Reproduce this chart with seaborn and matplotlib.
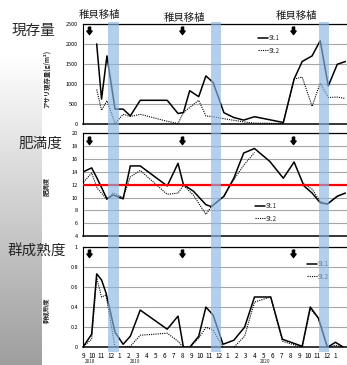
import numpy as np
import pandas as pd
import matplotlib.pyplot as plt
import matplotlib.transforms as mtransforms
from matplotlib.path import Path
from matplotlib.ticker import FuncFormatter
import seaborn as sns

# month axis: 0 = Sep 2018 ... 28 = Jan 2021
month_labels = ['9', '10', '11', '12', '1', '2', '3', '4', '5', '6', '7', '8',
                '9', '10', '11', '12', '1', '2', '3', '4', '5', '6', '7', '8',
                '9', '10', '11', '12', '1']
year_labels = ['2018', '2019', '2020']
year_pos = [0.7, 5.7, 20.2]

# shaded transplant periods (month positions)
band_start = [2.75, 14.2, 26.2]
band_end = [3.95, 15.3, 27.3]
arrow_pos = [0.64, 10.9, 23.3]
transplant_pos = [1.72, 11.2, 23.7]

# standing stock (g/m2)
x_stock = [1.46, 2.0, 2.6, 3.5, 4.4, 5.2, 6.3, 9.3, 10.5, 11.1, 11.8, 12.8, 13.6, 14.4,
           15.6, 16.7, 17.8, 19.0, 22.2, 23.4, 24.3, 25.4, 26.3, 27.2, 28.2, 29.1]
stock_st1 = [1990, 610, 1690, 360, 360, 190, 580, 580, 250, 275, 820, 670, 1190, 1025,
             270, 150, 85, 170, 25, 1110, 1550, 1690, 2070, 940, 1480, 1550]
stock_st2 = [850, 330, 570, 0, 230, 175, 230, 55, 0, 275, 400, 580, 190, 170,
             120, 80, 40, 10, 0, 1110, 1160, 430, 1010, 650, 660, 625]

# condition index
x_cond = [0, 0.9, 1.5, 2.6, 3.3, 4.4, 5.2, 6.3, 9.3, 10.5, 11.1, 12.2, 13.6, 14.2,
          15.6, 16.7, 17.8, 19.0, 20.7, 22.2, 23.4, 24.5, 25.4, 26.3, 27.1, 28.2, 29.1]
cond_st1 = [14.0, 14.6, 13.0, 9.8, 10.4, 9.8, 14.9, 14.9, 11.8, 15.3, 12.0, 11.0, 8.9, 8.6,
            10.2, 13.0, 16.9, 17.6, 15.6, 13.0, 15.5, 11.8, 10.7, 9.2, 9.0, 10.2, 10.7]
cond_st2 = [12.4, 13.8, 11.5, 9.7, 10.7, 10.0, 13.2, 14.2, 10.5, 10.7, 11.9, 10.4, 7.4, 8.6,
            10.2, 12.8, 15.0, 17.0, np.nan, np.nan, np.nan, 12.1, 11.3, 9.4, 9.0, 10.2, 10.7]
cond_ref = 12

# group maturity
x_mat = [0, 0.9, 1.46, 2.0, 2.5, 3.5, 4.4, 5.2, 6.3, 9.3, 10.5, 11.1, 11.8, 12.8, 13.6, 14.4,
         15.5, 16.7, 17.9, 19.0, 20.8, 22.1, 24.3, 25.2, 26.1, 27.1, 28.0, 28.9]
mat_st1 = [0.01, 0.13, 0.73, 0.67, 0.54, 0.15, 0.03, 0.11, 0.37, 0.18, 0.31, 0, 0, 0.11, 0.40, 0.32,
           0.03, 0.07, 0.20, 0.50, 0.50, 0.08, 0.01, 0.40, 0.29, 0, 0.05, 0]
mat_st2 = [0.01, 0.08, 0.69, 0.50, 0.52, 0.0, 0.0, 0.01, 0.12, 0.14, 0.06, 0, 0, 0.09, 0.20, 0.17,
           0, 0, 0.11, 0.45, 0.50, 0.06, 0.0, 0.38, 0.29, 0, 0.02, 0]


def long_form(x, st1, st2):
    rows = []
    for name, vals in [('St.1', st1), ('St.2', st2)]:
        seg = 0
        for xi, v in zip(x, vals):
            if np.isnan(v):
                seg += 1
                continue
            rows.append({'month': xi, 'value': v, 'station': name, 'seg': f'{name}-{seg}'})
    return pd.DataFrame(rows)


sns.set_theme(style='white')
plt.rcParams['font.family'] = ['Noto Sans CJK JP', 'DejaVu Sans']

W, H = 347, 365
fig = plt.figure(figsize=(W / 100, H / 100), dpi=100)

# grey gradient strip on the left
bg = fig.add_axes([0, 0, 1, 1], zorder=-10)
grad = np.ones((H, W, 3))
ys = np.linspace(0, 1, H)
shade = np.clip((ys - 0.15) / 0.85, 0, 1)
strip = 1 - 0.38 * shade
grad[:, :42, :] = strip[:, None, None]
bg.imshow(grad, aspect='auto', extent=(0, 1, 0, 1))
bg.axis('off')

left, width = 83 / W, 264 / W
xlim = (-0.06, 29.28)
rects = [
    [left, (H - 123.5) / H, width, 100 / H],
    [left, (H - 236.3) / H, width, 103.3 / H],
    [left, (H - 347.3) / H, width, 100.6 / H],
]
panels = [
    dict(x=x_stock, s1=stock_st1, s2=stock_st2, ylim=(0, 2500), ticks=np.arange(0, 2501, 500),
         ylabel='アサリ現存量(g/m²)', ly=0.45, leg=(0.663, 0.895)),
    dict(x=x_cond, s1=cond_st1, s2=cond_st2, ylim=(4, 20), ticks=np.arange(4, 21, 2),
         ylabel='肥満度', ly=0.48, leg=(0.652, 0.332)),
    dict(x=x_mat, s1=mat_st1, s2=mat_st2, ylim=(0, 1), ticks=np.arange(0, 1.01, 0.2),
         ylabel='群成熟度', ly=0.37, leg=(0.848, 0.868)),
]

arrow = Path([(-0.25, 1), (0.25, 1), (0.25, 0.1), (0.6, 0.1), (0, -0.7),
              (-0.6, 0.1), (-0.25, 0.1), (-0.25, 1)])

axes = []
for k, (rect, p) in enumerate(zip(rects, panels)):
    ax = fig.add_axes(rect)
    axes.append(ax)
    df = long_form(p['x'], p['s1'], p['s2'])
    sns.lineplot(data=df, x='month', y='value', style='station', units='seg', estimator=None,
                 color='black', dashes={'St.1': '', 'St.2': (1, 1)},
                 size='station', sizes={'St.1': 1.1, 'St.2': 0.8}, ax=ax, zorder=3)
    if k == 1:
        ax.axhline(cond_ref, color='#ff0000', lw=1.6, zorder=4)
    ax.set_xlim(xlim)
    ax.set_ylim(p['ylim'])
    ax.set_yticks(p['ticks'])
    ax.yaxis.set_major_formatter(FuncFormatter(lambda v, pos: f'{v:g}'))
    ax.set_xticks(range(len(month_labels)))
    if k == 2:
        ax.set_xticklabels(month_labels)
    else:
        ax.set_xticklabels([])
    ax.tick_params(axis='both', which='both', direction='out', length=2, width=0.6,
                   labelsize=4, pad=1.5, colors='black')
    ax.tick_params(axis='x', labelsize=4.6, pad=1.5)
    ax.grid(axis='y', color='#a6a6a6', lw=0.8)
    ax.grid(axis='x', visible=False)
    for s in ['left', 'bottom', 'top']:
        ax.spines[s].set_color('black')
    ax.spines['left'].set_linewidth(0.8)
    ax.spines['top'].set_linewidth(0.9)
    ax.spines['bottom'].set_linewidth(1.1)
    ax.spines['right'].set_visible(False)
    ax.set_xlabel('')
    ax.set_ylabel(p['ylabel'], fontsize=4.6, fontweight='bold', labelpad=0)
    ax.yaxis.set_label_coords(-0.125, p['ly'])
    trans = mtransforms.blended_transform_factory(ax.transData, ax.transAxes)
    ax.scatter(arrow_pos, [0.925] * len(arrow_pos), marker=arrow, s=40, color='black',
               transform=trans, zorder=5, clip_on=False)
    ax.legend(handles=ax.get_legend_handles_labels()[0][-2:] if len(ax.get_legend_handles_labels()[0]) > 2
              else ax.get_legend_handles_labels()[0],
              labels=['St.1', 'St.2'], loc='upper left', bbox_to_anchor=p['leg'],
              frameon=False, fontsize=4.4, handlelength=1.6, handletextpad=0.2,
              labelspacing=0.75, borderpad=0, borderaxespad=0)

ax3 = axes[2]
trans3 = mtransforms.blended_transform_factory(ax3.transData, ax3.transAxes)
for yl, xp in zip(year_labels, year_pos):
    ax3.text(xp, -0.146, yl, transform=trans3, fontsize=3.4, ha='center', va='center')

ax1 = axes[0]
trans1 = mtransforms.blended_transform_factory(ax1.transData, ax1.transAxes)
for xp, yp in zip(transplant_pos, [1.085, 1.055, 1.075]):
    ax1.text(xp, yp, '稚貝移植', transform=trans1, fontsize=7.5, ha='center', va='center',
             color='#1a1a1a', clip_on=False)

# translucent blue transplant bands across all panels
ov = fig.add_axes([left, (H - 352) / H, width, 330 / H], zorder=20)
ov.set_xlim(xlim)
ov.set_ylim(0, 1)
for a, b in zip(band_start, band_end):
    ov.axvspan(a, b, color='#8ab6e2', alpha=0.65, lw=0)
ov.axis('off')
ov.patch.set_alpha(0)

fig.text(33 / W, 1 - 31 / H, '現存量', fontsize=10.5, ha='center', va='center', color='#262626')
fig.text(40 / W, 1 - 144 / H, '肥満度', fontsize=10.5, ha='center', va='center', color='#262626')
fig.text(37 / W, 1 - 251 / H, '群成熟度', fontsize=10.5, ha='center', va='center', color='#262626')

fig.savefig('out.png', dpi=100)
